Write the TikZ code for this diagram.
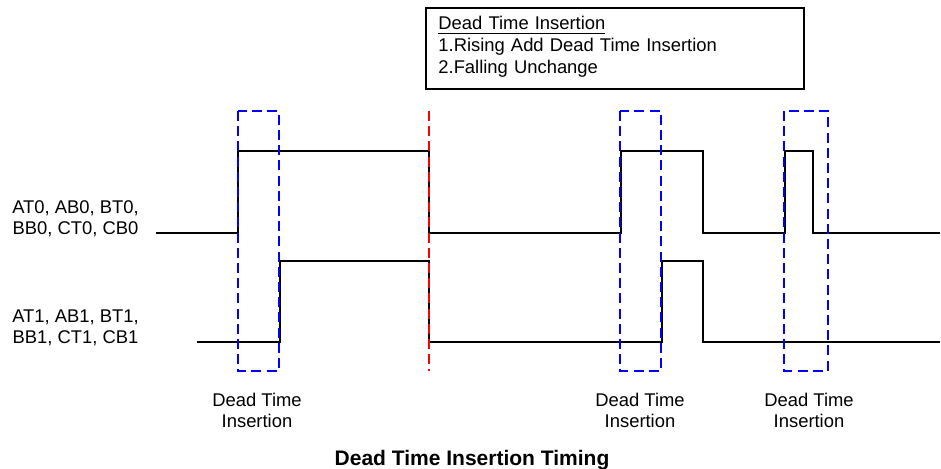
\documentclass[tikz,border=0pt]{standalone}
\usepackage{fontspec}
\setmainfont{Liberation Sans}
\usepackage{tikz}
\usetikzlibrary{calc}
\tikzset{
  sig/.style={color=black,line width=0.8pt},
  dtbox/.style={color=blue,line width=1pt,dash pattern=on 5pt off 2.6pt},
  edgemark/.style={color=red,line width=0.9pt,dash pattern=on 5pt off 2.6pt},
  lbl/.style={align=center,inner sep=0pt,anchor=base,font=\fontsize{9.2}{10.85}\selectfont}
}
\begin{document}
\begin{tikzpicture}[x=0.5pt,y=-0.5pt]
        \useasboundingbox (0,0) rectangle (941,469);
        \draw [color=black,line width=0.8pt] (426,8) rectangle (804,89);
        \node[anchor=base west,inner sep=0pt,text width=170pt,align=left,font=\fontsize{9.2}{10.85}\selectfont] (note) at (438,30) {\underline{Dead Time Insertion}\\1.Rising Add Dead Time Insertion\\2.Falling Unchange};
        \draw [sig] (156,233) -- (238,233) -- (238,151) -- (429,151) -- (429,233) -- (621,233) -- (621,151) -- (703,151) -- (703,233) -- (785,233) -- (785,151) -- (813,151) -- (813,233) -- (940,233);
        \draw [sig] (197,342) -- (280,342) -- (280,261) -- (429,261) -- (429,342) -- (662,342) -- (662,261) -- (703,261) -- (703,342) -- (940,342);
        \draw [dtbox] (237.7,111) rectangle (278.7,371);
        \draw [dtbox] (620,111) rectangle (661,371);
        \draw [dtbox] (784,111) rectangle (827.7,371);
        \draw [edgemark] (429,111) -- (429,371);
        \node[lbl] (grp0) at (75.5,235) {AT0, AB0, BT0,\\BB0, CT0, CB0};
        \node[lbl] (grp1) at (75.5,344) {AT1, AB1, BT1,\\BB1, CT1, CB1};
        \node[lbl] (dt1) at (257,428) {Dead Time\\Insertion};
        \node[lbl] (dt2) at (640,428) {Dead Time\\Insertion};
        \node[lbl] (dt3) at (809,428) {Dead Time\\Insertion};
        \node[inner sep=0pt,anchor=base,font=\fontsize{10.5}{12}\selectfont\bfseries] (title) at (472,466) {Dead Time Insertion Timing};
\end{tikzpicture}
\end{document}
